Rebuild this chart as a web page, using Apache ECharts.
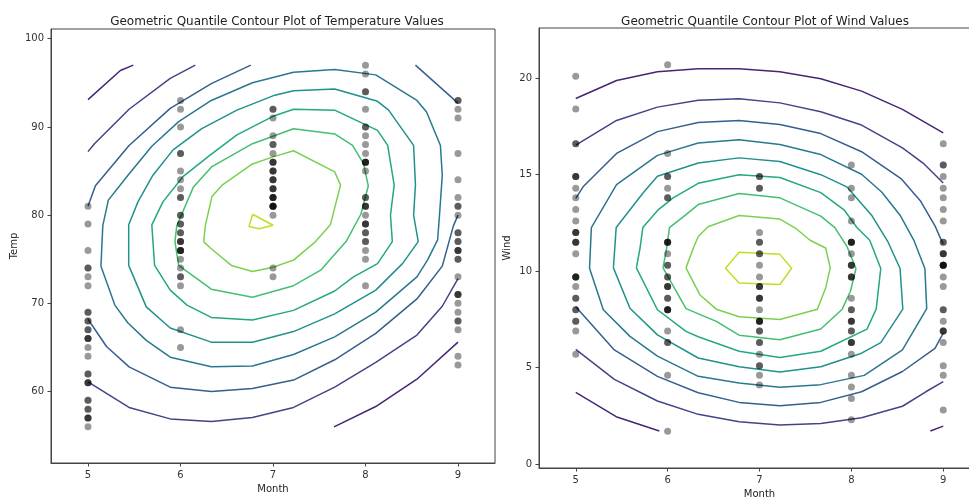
<!DOCTYPE html>
<html>
<head>
<meta charset="utf-8">
<script src="https://cdn.jsdelivr.net/npm/echarts@6/dist/echarts.min.js"></script>
<style>
  html, body { margin: 0; padding: 0; background: #fff; }
  #main { width: 969px; height: 497px; }
</style>
</head>
<body>
<div id="main"></div>
<script>
// 月份与刻度
var monthTicks = [5, 6, 7, 8, 9];
var tempTicks = [60, 70, 80, 90, 100];
var windTicks = [0, 5, 10, 15, 20];

// 每月温度观测值
var tempMay = [67, 72, 74, 62, 56, 66, 65, 59, 61, 69, 74, 69, 66, 68, 58, 64, 66, 57, 68, 62, 59, 73, 61, 61, 57, 58, 57, 67, 81, 79, 76];
var tempJun = [78, 74, 67, 84, 85, 79, 82, 87, 90, 87, 93, 92, 82, 80, 79, 77, 72, 65, 73, 76, 77, 76, 76, 76, 75, 78, 73, 80, 77, 83];
var tempJul = [84, 85, 81, 84, 83, 83, 88, 92, 92, 89, 82, 73, 81, 91, 80, 81, 82, 84, 87, 85, 74, 81, 82, 86, 85, 82, 86, 88, 86, 83, 81];
var tempAug = [81, 81, 82, 86, 85, 87, 89, 90, 90, 92, 86, 86, 82, 80, 79, 77, 79, 76, 78, 78, 77, 72, 75, 79, 81, 86, 88, 97, 94, 96, 94];
var tempSep = [91, 92, 93, 93, 87, 84, 80, 78, 75, 73, 81, 76, 77, 71, 71, 78, 67, 76, 68, 82, 64, 71, 81, 69, 63, 70, 77, 75, 76, 68];

// 每月风速观测值
var windMay = [7.4, 8.0, 12.6, 11.5, 14.3, 14.9, 8.6, 13.8, 20.1, 8.6, 6.9, 9.7, 9.2, 10.9, 13.2, 11.5, 12.0, 18.4, 11.5, 9.7, 9.7, 16.6, 9.7, 12.0, 16.6, 14.9, 8.0, 12.0, 14.9, 5.7, 7.4];
var windJun = [8.6, 9.7, 16.1, 9.2, 8.6, 14.3, 9.7, 6.9, 13.8, 11.5, 10.9, 9.2, 8.0, 13.8, 11.5, 14.9, 20.7, 9.2, 11.5, 10.3, 6.3, 1.7, 4.6, 6.3, 8.0, 8.0, 10.3, 11.5, 14.9, 8.0];
var windJul = [4.1, 9.2, 9.2, 10.9, 4.6, 10.9, 5.1, 6.3, 5.7, 7.4, 8.6, 14.3, 14.9, 14.9, 14.3, 6.9, 10.3, 6.3, 5.1, 11.5, 6.9, 9.7, 11.5, 8.6, 8.0, 8.6, 12.0, 7.4, 7.4, 7.4, 9.2];
var windAug = [6.9, 13.8, 7.4, 6.9, 7.4, 4.6, 4.0, 10.3, 8.0, 8.6, 11.5, 11.5, 11.5, 9.7, 11.5, 10.3, 6.3, 7.4, 10.9, 10.3, 15.5, 14.3, 12.6, 9.7, 3.4, 8.0, 5.7, 9.7, 2.3, 6.3, 6.3];
var windSep = [6.9, 5.1, 2.8, 4.6, 7.4, 15.5, 10.9, 10.3, 10.9, 9.7, 14.9, 15.5, 6.3, 10.9, 11.5, 6.9, 13.8, 10.3, 10.3, 8.0, 12.6, 9.2, 10.3, 10.3, 16.6, 6.9, 13.2, 14.3, 8.0, 11.5];

// 温度等值线(每个层级可能有多段) [月份, 温度]
var tempLevel1 = [
    [[5, 93.1], [5.35, 96.4], [5.49, 97]],
    [[7.66, 56], [8.111, 58.3], [8.556, 61.4], [9, 65.6]]
];
var tempLevel2 = [
    [[5, 87.2], [5.07, 88.1], [5.444, 92.0], [5.889, 95.5], [6.16, 97]],
    [[5, 61.1], [5.444, 58.2], [5.889, 56.9], [6.333, 56.6], [6.778, 57.05], [7.222, 58.2], [7.667, 60.5], [8.111, 63.3], [8.556, 66.4], [8.83, 69.67], [9, 72.8]]
];
var tempLevel3 = [
    [[5, 81.0], [5.08, 83.33], [5.444, 87.89], [5.889, 92.1], [6.333, 94.9], [6.76, 97]],
    [[8.54, 97], [9, 92.7]],
    [[5, 68.2], [5.2, 65.11], [5.444, 62.8], [5.889, 60.5], [6.333, 60.0], [6.778, 60.35], [7.222, 61.3], [7.667, 63.6], [8.111, 66.6], [8.556, 70.5], [8.83, 74.22], [8.95, 78.78], [9, 80.0]]
];
var tempLevel4 = [
    [[5.14, 74.2], [5.16, 78.8], [5.22, 81.7], [5.43, 84.5], [5.69, 87.8], [5.98, 90.6], [6.333, 93.0], [6.778, 95.0], [7.222, 96.2], [7.667, 96.5], [8.111, 95.9], [8.556, 93.0], [8.66, 91.7], [8.81, 87.9], [8.83, 84.5], [8.8, 80.0], [8.78, 77.2], [8.67, 74.9], [8.556, 73.0], [8.111, 69.0], [7.667, 66.2], [7.222, 64.2], [6.778, 62.9], [6.333, 62.8], [5.889, 63.9], [5.63, 65.8], [5.43, 67.8], [5.29, 69.8], [5.14, 74.2]]
];
var tempLevel5 = [
    [[5.44, 74.3], [5.44, 78.9], [5.54, 81.5], [5.70, 84.5], [5.92, 87.4], [6.23, 89.8], [6.61, 91.9], [7.02, 93.6], [7.222, 94.1], [7.667, 94.3], [8.13, 92.9], [8.25, 91.9], [8.52, 87.9], [8.54, 83.4], [8.52, 80.0], [8.57, 77.0], [8.4, 74.5], [8.111, 71.5], [7.667, 68.8], [7.222, 66.8], [6.778, 65.6], [6.333, 65.6], [5.889, 67.2], [5.63, 69.6], [5.44, 74.3]]
];
var tempLevel6 = [
    [[5.72, 74.3], [5.69, 78.9], [5.81, 81.5], [6.03, 84.4], [6.32, 86.8], [6.61, 89.1], [7.0, 91.2], [7.222, 92.0], [7.667, 91.9], [8.13, 89.6], [8.24, 87.9], [8.31, 83.4], [8.27, 80.0], [8.29, 77.0], [8.13, 74.5], [7.87, 73.0], [7.667, 71.4], [7.222, 69.2], [6.778, 68.1], [6.333, 68.4], [6.07, 69.8], [5.889, 71.5], [5.72, 74.3]]
];
var tempLevel7 = [
    [[5.98, 74.3], [5.94, 77.0], [5.96, 78.8], [6.14, 83.2], [6.34, 85.5], [6.778, 88.1], [7.222, 89.8], [7.667, 89.2], [7.86, 87.9], [7.98, 85.8], [8.03, 83.3], [7.95, 80.1], [7.79, 77.0], [7.52, 73.8], [7.222, 72.0], [6.778, 70.7], [6.333, 71.6], [5.98, 74.3]]
];
var tempLevel8 = [
    [[6.25, 77.0], [6.27, 78.9], [6.34, 82.1], [6.45, 83.4], [6.778, 85.8], [7.0, 86.6], [7.222, 87.3], [7.667, 84.9], [7.73, 83.4], [7.62, 78.9], [7.46, 77.0], [7.222, 74.9], [7.0, 74.1], [6.778, 73.6], [6.55, 74.3], [6.32, 76.3], [6.25, 77.0]]
];
var tempLevel9 = [
    [[6.78, 80.1], [6.74, 78.7], [6.85, 78.45], [7.0, 78.85], [6.78, 80.1]]
];

// 风速等值线 [月份, 风速]
var windLevel1 = [
    [[5, 18.95], [5.444, 19.88], [5.889, 20.33], [6.333, 20.49], [6.778, 20.49], [7.222, 20.33], [7.667, 19.97], [8.111, 19.33], [8.556, 18.38], [9, 17.17]],
    [[5, 3.72], [5.44, 2.46], [5.91, 1.72]],
    [[8.86, 1.72], [9, 1.97]]
];
var windLevel2 = [
    [[5, 16.53], [5.444, 17.81], [5.889, 18.5], [6.333, 18.86], [6.778, 18.93], [7.222, 18.72], [7.667, 18.26], [8.111, 17.57], [8.556, 16.39], [8.78, 15.6], [9, 14.57]],
    [[5, 5.95], [5.42, 4.39], [5.889, 3.27], [6.333, 2.58], [6.778, 2.2], [7.222, 2.03], [7.667, 2.1], [8.111, 2.4], [8.556, 3.0], [8.81, 3.75], [9, 4.28]]
];
var windLevel3 = [
    [[5, 13.77], [5.08, 14.37], [5.444, 16.1], [5.889, 17.23], [6.333, 17.7], [6.778, 17.81], [7.222, 17.6], [7.667, 17.13], [8.111, 16.19], [8.54, 14.8], [8.75, 13.65], [8.91, 12.35], [8.97, 11.7], [9, 11.4]],
    [[9, 6.79], [8.91, 6.0], [8.556, 4.8], [8.111, 3.75], [7.667, 3.2], [7.222, 3.02], [6.778, 3.2], [6.333, 3.7], [5.889, 4.55], [5.42, 5.92], [5, 8.15]]
];
var windLevel4 = [
    [[5.17, 12.26], [5.444, 14.48], [5.889, 16.0], [6.333, 16.64], [6.778, 16.81], [7.222, 16.56], [7.667, 16.04], [8.111, 15.02], [8.33, 14.1], [8.53, 12.9], [8.68, 11.6], [8.8, 10.14], [8.82, 8.06], [8.556, 5.92], [8.14, 4.6], [7.667, 4.12], [7.222, 3.98], [6.778, 4.2], [6.333, 4.55], [5.889, 5.6], [5.59, 6.62], [5.3, 8.0], [5.15, 10.15], [5.17, 12.26]]
];
var windLevel5 = [
    [[5.41, 10.17], [5.44, 12.26], [5.73, 14.04], [5.889, 14.92], [6.333, 15.6], [6.778, 15.87], [7.222, 15.68], [7.667, 15.0], [7.95, 14.37], [8.22, 12.9], [8.4, 11.5], [8.53, 10.14], [8.56, 8.03], [8.32, 6.3], [8.111, 5.75], [7.667, 5.05], [7.222, 4.78], [6.778, 5.05], [6.333, 5.5], [5.889, 6.7], [5.59, 8.08], [5.41, 10.17]]
];
var windLevel6 = [
    [[5.66, 10.17], [5.7, 11.2], [5.73, 12.26], [5.9, 13.19], [6.06, 13.8], [6.333, 14.55], [6.778, 15.0], [7.222, 14.85], [7.667, 14.07], [7.92, 13.18], [8.06, 12.26], [8.2, 11.6], [8.32, 10.14], [8.27, 8.03], [8.17, 7.0], [7.667, 5.85], [7.222, 5.52], [6.778, 5.85], [6.333, 6.6], [6.2, 6.88], [5.889, 8.0], [5.66, 10.17]]
];
var windLevel7 = [
    [[5.95, 10.17], [5.99, 11.2], [6.02, 12.26], [6.2, 12.93], [6.333, 13.45], [6.778, 14.02], [7.222, 13.8], [7.667, 12.85], [7.82, 12.26], [7.95, 11.3], [8.05, 10.14], [7.99, 8.96], [7.9, 8.03], [7.667, 7.0], [7.222, 6.45], [6.778, 6.68], [6.53, 7.4], [6.2, 8.06], [5.95, 10.17]]
];
var windLevel8 = [
    [[6.2, 10.17], [6.28, 11.2], [6.333, 11.8], [6.44, 12.3], [6.778, 12.88], [7.222, 12.7], [7.4, 12.2], [7.55, 11.6], [7.72, 11.2], [7.77, 10.17], [7.72, 9.13], [7.63, 8.03], [7.222, 7.49], [6.778, 7.64], [6.53, 8.03], [6.35, 8.78], [6.2, 10.17]]
];
var windLevel9 = [
    [[6.63, 10.15], [6.778, 10.98], [7.222, 10.87], [7.35, 10.15], [7.222, 9.31], [6.778, 9.39], [6.63, 10.15]]
];

// viridis 配色(由外到内)
var levelColors = ['#482475', '#414487', '#355f8d', '#2a788e', '#21918c', '#22a884', '#44bf70', '#7ad151', '#bddf26'];

var tempLevels = [tempLevel1, tempLevel2, tempLevel3, tempLevel4, tempLevel5, tempLevel6, tempLevel7, tempLevel8, tempLevel9];
var windLevels = [windLevel1, windLevel2, windLevel3, windLevel4, windLevel5, windLevel6, windLevel7, windLevel8, windLevel9];
var tempByMonth = [tempMay, tempJun, tempJul, tempAug, tempSep];
var windByMonth = [windMay, windJun, windJul, windAug, windSep];

var FONT = 'DejaVu Sans';

// 把每个月的观测值变成散点
function toPoints(byMonth) {
    var pts = [];
    for (var i = 0; i < byMonth.length; i++) {
        for (var j = 0; j < byMonth[i].length; j++) {
            pts.push([monthTicks[i], byMonth[i][j]]);
        }
    }
    return pts;
}

// 等值线 -> 折线系列
function contourSeries(levels, axisIndex) {
    var list = [];
    levels.forEach(function (segments, k) {
        segments.forEach(function (seg) {
            list.push({
                type: 'line',
                xAxisIndex: axisIndex,
                yAxisIndex: axisIndex,
                data: seg,
                showSymbol: false,
                symbol: 'none',
                silent: true,
                z: 2,
                lineStyle: { color: levelColors[k], width: 1.5 }
            });
        });
    });
    return list;
}

function makeXAxis(idx) {
    return {
        type: 'value',
        gridIndex: idx,
        min: 4.6,
        max: 9.4,
        name: 'Month',
        nameLocation: 'middle',
        nameGap: 20,
        nameTextStyle: { fontFamily: FONT, fontSize: 10, color: '#222' },
        axisLine: { show: true, onZero: false, lineStyle: { color: '#444', width: 1 } },
        axisTick: { show: true, inside: false, length: 3.5, customValues: monthTicks, lineStyle: { color: '#444' } },
        axisLabel: { customValues: monthTicks, margin: 7, fontFamily: FONT, fontSize: 10, color: '#333' },
        splitLine: { show: false }
    };
}

function makeYAxis(idx, name, min, max, ticks, gap) {
    return {
        type: 'value',
        gridIndex: idx,
        min: min,
        max: max,
        name: name,
        nameLocation: 'middle',
        nameRotate: 90,
        nameGap: gap,
        nameTextStyle: { fontFamily: FONT, fontSize: 10, color: '#222' },
        axisLine: { show: true, onZero: false, lineStyle: { color: '#444', width: 1 } },
        axisTick: { show: true, inside: false, length: 3.5, customValues: ticks, lineStyle: { color: '#444' } },
        axisLabel: { customValues: ticks, margin: 7, fontFamily: FONT, fontSize: 10, color: '#333' },
        splitLine: { show: false }
    };
}

var myChart = echarts.init(document.getElementById('main'), null, { renderer: 'canvas' });

var series = [].concat(
    contourSeries(tempLevels, 0),
    contourSeries(windLevels, 1),
    [{
        type: 'scatter',
        xAxisIndex: 0,
        yAxisIndex: 0,
        data: toPoints(tempByMonth),
        symbolSize: 7,
        silent: true,
        z: 3,
        itemStyle: { color: 'rgba(0,0,0,0.5)' }
    }, {
        type: 'scatter',
        xAxisIndex: 1,
        yAxisIndex: 1,
        data: toPoints(windByMonth),
        symbolSize: 7,
        silent: true,
        z: 3,
        itemStyle: { color: 'rgba(0,0,0,0.5)' }
    }]
);

myChart.setOption({
    animation: false,
    backgroundColor: '#fff',
    title: [{
        text: 'Geometric Quantile Contour Plot of Temperature Values',
        left: 272,
        top: 11,
        textAlign: 'center',
        textStyle: { fontFamily: FONT, fontSize: 12, fontWeight: 'normal', color: '#222' }
    }, {
        text: 'Geometric Quantile Contour Plot of Wind Values',
        left: 760,
        top: 11,
        textAlign: 'center',
        textStyle: { fontFamily: FONT, fontSize: 12, fontWeight: 'normal', color: '#222' }
    }],
    grid: [
        { left: 51, top: 29, width: 444, height: 434, outerBoundsMode: 'none', containLabel: false, show: true, borderColor: '#444', borderWidth: 1 },
        { left: 539, top: 28, width: 441, height: 440, outerBoundsMode: 'none', containLabel: false, show: true, borderColor: '#444', borderWidth: 1 }
    ],
    xAxis: [makeXAxis(0), makeXAxis(1)],
    yAxis: [
        makeYAxis(0, 'Temp', 51.9, 101.1, tempTicks, 32),
        makeYAxis(1, 'Wind', -0.2, 22.6, windTicks, 27)
    ],
    series: series
});
</script>
</body>
</html>
